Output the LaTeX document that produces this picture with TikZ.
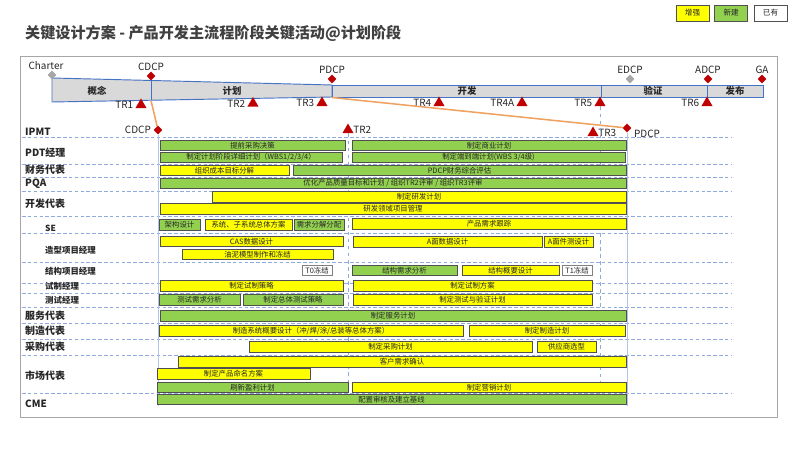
\documentclass[tikz,border=0pt]{standalone}
\usepackage{fontspec}
\setmainfont{Noto Sans CJK SC}
\usetikzlibrary{positioning,shapes.geometric}
\definecolor{taskGreen}{RGB}{146,208,80}
\definecolor{taskYellow}{RGB}{255,255,0}
\definecolor{taskEdge}{RGB}{80,80,80}
\definecolor{inkDark}{RGB}{38,38,38}
\definecolor{titleGray}{RGB}{64,64,64}
\definecolor{phaseFill}{RGB}{217,217,217}
\definecolor{phaseEdge}{RGB}{68,114,196}
\definecolor{gateRed}{RGB}{192,0,0}
\definecolor{gateGray}{RGB}{166,166,166}
\definecolor{linkOrange}{RGB}{240,160,95}
\definecolor{guideBlue}{RGB}{143,170,220}
\definecolor{frameGray}{RGB}{166,166,166}
\tikzset{
  task/.style={draw=taskEdge,line width=0.6pt,inner sep=0pt,outer sep=0pt,minimum height=3.1mm,anchor=west,text=inkDark,font=\fontsize{6.3}{7}\selectfont},
  task green/.style={task,fill=taskGreen},
  task yellow/.style={task,fill=taskYellow},
  task plain/.style={task,fill=white,draw=gray},
  len/.style={minimum width=#1*0.3mm},
  role/.style={anchor=west,inner sep=0pt,text=inkDark,font=\bfseries\fontsize{8.5}{10}\selectfont},
  sub role/.style={role,font=\bfseries\fontsize{7.2}{8}\selectfont},
  phase bar/.style={draw=phaseEdge,fill=phaseFill,line width=0.8pt},
  phase label/.style={text=inkDark,font=\bfseries\fontsize{8}{9}\selectfont},
  gate/.style={diamond,fill=gateRed,inner sep=0pt,minimum width=2.6mm,minimum height=2.7mm},
  gate gray/.style={gate,fill=gateGray},
  review/.style={regular polygon,regular polygon sides=3,fill=gateRed,inner sep=0pt,minimum size=3.9mm},
  mark text/.style={text=inkDark,inner sep=1pt,font=\fontsize{8.5}{10}\selectfont},
  legend/.style={draw=taskEdge,line width=0.6pt,minimum width=33*0.3mm,minimum height=4.8mm,inner sep=0pt,text=inkDark,font=\fontsize{6.5}{7}\selectfont},
  row line/.style={densely dashed,draw=guideBlue,line width=0.5pt},
  guide/.style={dashed,draw=guideBlue,line width=0.5pt},
  stage line/.style={draw=guideBlue!70,line width=0.6pt},
  gate link/.style={draw=linkOrange,line width=1.3pt}
}
\begin{document}
\begin{tikzpicture}[x=0.3mm,y=-0.3mm]
    \useasboundingbox (0,0) rectangle (800,450);
    \fill[white] (0,0) rectangle (800,450);
    \draw[frameGray,line width=0.8pt] (20,56) rectangle (777,417);
    \node[anchor=west,inner sep=0pt,text=titleGray,font=\bfseries\fontsize{12.9}{14}\selectfont] (title) at (25,33) {关键设计方案 - 产品开发主流程阶段关键活动@计划阶段};
    \node[legend,fill=taskYellow] (keyboost) at (692.5,13) {增强};
    \node[legend,fill=taskGreen,right=1.5mm of keyboost] (keynew) {新建};
    \node[legend,fill=white,right=1.7mm of keynew] (keyold) {已有};
    % row separators
    \foreach \yy in {137,164,177,191,216,233,262,283,293,307,323,339,355,393}
      \draw[row line] (22,\yy) -- (732,\yy);
    % phase bar
    \draw[phase bar] (52,78) -- (332,85) -- (332,97) -- (52,102) -- cycle;
    \draw[phase bar] (332,85) rectangle (763,97);
    \draw[phaseEdge,line width=0.8pt] (151,80.5) -- (151,100.2);
    \draw[phaseEdge,line width=0.8pt] (601,85) -- (601,97);
    \draw[phaseEdge,line width=0.8pt] (707,85) -- (707,97);
    \node[phase label] (concept) at (97,91) {概念};
    \node[phase label] (planning) at (232,91) {计划};
    \node[phase label] (develop) at (467,91) {开发};
    \node[phase label] (verify) at (653,91) {验证};
    \node[phase label] (release) at (735,91) {发布};
    % decision points
    \node[gate gray] (charter) at (52,75) {};
    \node[mark text] (charterText) at (46,66) {Charter};
    \node[gate] (cdcp) at (151,76) {};
    \node[mark text,above=-1pt of cdcp] (cdcpText) {CDCP};
    \node[gate] (pdcp) at (332,79) {};
    \node[mark text,above=-1pt of pdcp] (pdcpText) {PDCP};
    \node[gate gray] (edcp) at (630,79) {};
    \node[mark text,above=-1pt of edcp] (edcpText) {EDCP};
    \node[gate] (adcp) at (708,79) {};
    \node[mark text,above=-1pt of adcp] (adcpText) {ADCP};
    \node[gate] (ga) at (762,79) {};
    \node[mark text,above=-1pt of ga] (gaText) {GA};
    % technical reviews
    \node[review] (tr1) at (141,105) {};
    \node[mark text,left=2pt of tr1] (tr1Text) {TR1};
    \node[review] (tr2) at (253,103.5) {};
    \node[mark text,left=2pt of tr2] (tr2Text) {TR2};
    \node[review] (tr3) at (322,103) {};
    \node[mark text,left=2pt of tr3] (tr3Text) {TR3};
    \node[review] (tr4) at (439,103) {};
    \node[mark text,left=2pt of tr4] (tr4Text) {TR4};
    \node[review] (tr4a) at (522,103) {};
    \node[mark text,left=2pt of tr4a] (tr4aText) {TR4A};
    \node[review] (tr5) at (600,103) {};
    \node[mark text,left=2pt of tr5] (tr5Text) {TR5};
    \node[review] (tr6) at (707,103) {};
    \node[mark text,left=2pt of tr6] (tr6Text) {TR6};
    % plan stage markers
    \node[gate] (cdcpLow) at (158,130) {};
    \node[mark text,left=1pt of cdcpLow] (cdcpLowText) {CDCP};
    \node[review] (tr2Low) at (348,130) {};
    \node[mark text,right=0pt of tr2Low] (tr2LowText) {TR2};
    \node[review] (tr3Low) at (593,133) {};
    \node[mark text,right=0pt of tr3Low] (tr3LowText) {TR3};
    \node[gate] (pdcpLow) at (627,128) {};
    \node[mark text,right=1pt of pdcpLow,yshift=-1.8mm] (pdcpLowText) {PDCP};
    \coordinate (cdcpFoot) at (151,100.5);
    \coordinate (pdcpFoot) at (332,97.5);
    \draw[gate link] (cdcpFoot) -- (cdcpLow);
    \draw[gate link] (pdcpFoot) -- (pdcpLow);
    \coordinate (tr2End) at (348,396);
    \coordinate (tr5End) at (600,408);
    \coordinate (cdcpEnd) at (158,406);
    \coordinate (pdcpEnd) at (627,406);
    \draw[guide] (tr2Low) -- (tr2End);
    \draw[guide] (tr5) -- (tr5End);
    \draw[stage line] (cdcpLow) -- (cdcpEnd);
    \draw[stage line] (pdcpLow) -- (pdcpEnd);
    % roles
    \node[role] (ipmt) at (25,132) {IPMT};
    \node[role] (pdt) at (25,153) {PDT经理};
    \node[role] (finance) at (25,170) {财务代表};
    \node[role] (pqa) at (25,184) {PQA};
    \node[role] (devrep) at (25,204) {开发代表};
    \node[sub role] (se) at (45,228) {SE};
    \node[sub role] (styling) at (45,250) {造型项目经理};
    \node[sub role] (structure) at (45,271) {结构项目经理};
    \node[sub role] (trial) at (45,286) {试制经理};
    \node[sub role] (testmgr) at (45,300) {测试经理};
    \node[role] (servrep) at (25,316) {服务代表};
    \node[role] (mfgrep) at (25,331) {制造代表};
    \node[role] (purchrep) at (25,347) {采购代表};
    \node[role] (mktrep) at (25,376) {市场代表};
    \node[role] (cme) at (25,404) {CME};
    % activities
    \node[task green,len=185] (earlyBuy) at (160,145.5) {提前采购决策};
    \node[task green,len=274] (bizPlan) at (352,145.5) {制定商业计划};
    \node[task green,len=182] (wbsPlan) at (160,157.5) {制定计划阶段详细计划（WBS1/2/3/4）};
    \node[task green,len=273] (e2ePlan) at (352,157.5) {制定端到端计划(WBS 3/4级)};
    \node[task yellow,len=129] (costSplit) at (160,170.5) {组织成本目标分解};
    \node[task green,len=333] (finEval) at (293,170.5) {PDCP财务综合评估};
    \node[task green,len=466] (quality) at (160,183.5) {优化产品质量目标和计划 / 组织TR2评审 / 组织TR3评审};
    \node[task yellow,len=414] (rdPlan) at (212,197) {制定研发计划};
    \node[task yellow,len=466] (rdMgmt) at (160,209) {研发领域项目管理};
    \node[task green,len=41] (archDesign) at (159,225) {架构设计};
    \node[task yellow,len=87] (sysSolution) at (205,225) {系统、子系统总体方案};
    \node[task green,len=50] (reqAlloc) at (294,225) {需求分解分配};
    \node[task yellow,len=274] (reqTrack) at (352,224) {产品需求跟踪};
    \node[task yellow,len=183] (casData) at (160,241.5) {CAS数据设计};
    \node[task yellow,len=151] (clayModel) at (182,254.5) {油泥模型制作和冻结};
    \node[task yellow,len=189] (aData) at (353,242) {A面数据设计};
    \node[task yellow,len=49] (aPart) at (544,242) {A面件测设计};
    \node[task plain,len=30] (tZero) at (302,270.5) {T0冻结};
    \node[task green,len=105] (structReq) at (352,270.5) {结构需求分析};
    \node[task yellow,len=97] (structDesign) at (462,270.5) {结构概要设计};
    \node[task plain,len=30] (tOne) at (562,270.5) {T1冻结};
    \node[task yellow,len=183] (trialStrat) at (160,286) {制定试制策略};
    \node[task yellow,len=239] (trialPlan) at (353,286) {制定试制方案};
    \node[task green,len=81] (testReq) at (159,300) {测试需求分析};
    \node[task green,len=100] (testStrat) at (243,300) {制定总体测试策略};
    \node[task yellow,len=239] (testPlan) at (353,300) {制定测试与验证计划};
    \node[task green,len=466] (servPlan) at (160,316) {制定服务计划};
    \node[task yellow,len=304] (mfgDesign) at (159,331) {制造系统概要设计（冲/焊/涂/总装等总体方案）};
    \node[task yellow,len=156] (mfgPlan) at (469,331) {制定制造计划};
    \node[task yellow,len=283] (purchPlan) at (249,347) {制定采购计划};
    \node[task yellow,len=59] (supplier) at (537,347) {供应商选型};
    \node[task yellow,len=448] (custReq) at (178,362) {客户需求确认};
    \node[task yellow,len=153] (naming) at (157,374) {制定产品命名方案};
    \node[task green,len=191] (profit) at (157,387.5) {刷新盈利计划};
    \node[task yellow,len=274] (marketing) at (352,387.5) {制定营销计划};
    \node[task green,len=469] (baseline) at (157,399.5) {配置审核及建立基线};
\end{tikzpicture}
\end{document}
